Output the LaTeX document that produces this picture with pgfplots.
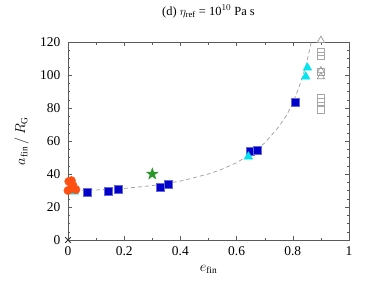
\documentclass[border=0pt]{standalone}
\usepackage{fontspec}
\setmainfont{Liberation Serif}
\usepackage{pgfplots}
\pgfplotsset{compat=1.18}
\definecolor{sqblue}{RGB}{0,0,200}
\definecolor{tricyan}{RGB}{0,230,240}
\definecolor{circred}{RGB}{255,80,20}
\definecolor{stargreen}{RGB}{40,150,40}
\definecolor{axgray}{RGB}{90,90,90}
\pgfdeclareplotmark{fstar}{%
  \pgfpathmoveto{\pgfqpointpolar{90}{\pgfplotmarksize}}%
  \pgfpathlineto{\pgfqpointpolar{126}{0.4\pgfplotmarksize}}%
  \pgfpathlineto{\pgfqpointpolar{162}{\pgfplotmarksize}}%
  \pgfpathlineto{\pgfqpointpolar{198}{0.4\pgfplotmarksize}}%
  \pgfpathlineto{\pgfqpointpolar{234}{\pgfplotmarksize}}%
  \pgfpathlineto{\pgfqpointpolar{270}{0.4\pgfplotmarksize}}%
  \pgfpathlineto{\pgfqpointpolar{306}{\pgfplotmarksize}}%
  \pgfpathlineto{\pgfqpointpolar{342}{0.4\pgfplotmarksize}}%
  \pgfpathlineto{\pgfqpointpolar{18}{\pgfplotmarksize}}%
  \pgfpathlineto{\pgfqpointpolar{54}{0.4\pgfplotmarksize}}%
  \pgfpathclose
  \pgfusepathqfillstroke}
\begin{document}
\fontsize{13.5}{16}\selectfont
\begin{tikzpicture}[x=1bp,y=1bp]
\useasboundingbox (-68,-59) rectangle (306,240);
\begin{axis}[
  at={(0,0)}, anchor=south west,
  scale only axis, width=281bp, height=198bp,
  xmin=0, xmax=1, ymin=0, ymax=120,
  xtick={0,0.2,...,1}, ytick={0,20,...,120},
  minor x tick num=1, minor y tick num=3,
  xticklabels={0,0.2,0.4,0.6,0.8,1},
  yticklabels={0,20,40,60,80,100,120},
  tick align=inside,
  major tick length=4bp, minor tick length=2.5bp,
  axis line style={axgray},
  every tick/.style={axgray},
  /pgf/number format/assume math mode=true,
  xticklabel style={font=\fontsize{13.5}{16}\selectfont, yshift=-2bp},
  yticklabel style={font=\fontsize{13.5}{16}\selectfont, xshift=-3bp},
  xlabel={$e_{\mathrm{fin}}$},
  ylabel={$a_{\mathrm{fin}}\,/\,R_{\mathrm{G}}$},
  label style={font=\fontsize{13.5}{16}\selectfont},
  xlabel style={at={(axis description cs:0.5,-0.15)}, anchor=center},
  ylabel style={at={(axis description cs:-0.165,0.5)}, anchor=center},
  title={(d) $\eta_{\mathrm{ref}}$ = 10$^{10}$ Pa s},
  title style={font=\fontsize{12.5}{15}\selectfont, at={(axis description cs:0.5,1.125)}, anchor=center},
  clip=false,
]
\addplot[gray!70, dashed, thick, dash pattern=on 4bp off 3bp] coordinates {
(0,30) (0.1,30.30) (0.2,31.25) (0.3,32.97) (0.4,35.71) (0.5,40) (0.55,43.01)
(0.6,46.875) (0.65,51.95) (0.7,58.82) (0.75,68.57) (0.78,76.2) (0.8,83.33)
(0.82,91.58) (0.84,101.9) (0.85,108.1) (0.866,120)};
% gray open markers at e=0.9
\addplot[only marks, mark=square, mark size=3.8bp, gray!70, mark options={line width=0.7pt}] coordinates {
(0.9,114) (0.9,111.5) (0.9,102) (0.9,85.8) (0.9,83.8) (0.9,78.8)};
\addplot[only marks, mark=triangle, mark size=4.2bp, gray!80, mark options={line width=0.7pt}] coordinates {
(0.9,121) (0.9,102.6) (0.9,99)};
% blue squares
\addplot[only marks, mark=square*, mark size=4bp, mark options={fill=sqblue, draw=sqblue!60}] coordinates {
(0.067,28.9) (0.143,29.3) (0.177,30.9) (0.327,32.3) (0.355,33.7)
(0.648,53.9) (0.675,54.5) (0.807,83.6)};
% cyan triangles
\addplot[only marks, mark=triangle*, mark size=5bp, mark options={fill=tricyan, draw=tricyan}] coordinates {
(0.022,29.3) (0.642,50.5) (0.852,104.4) (0.846,99)};
% red circles
\addplot[only marks, mark=*, mark size=4.2bp, mark options={fill=circred, draw=circred}] coordinates {
(0.003,35.5) (0.012,36) (0.0,30) (0.01,31) (0.028,30.5) (0.018,33)};
% green star
\addplot[only marks, mark=fstar, mark size=6bp, mark options={fill=stargreen, draw=stargreen, line width=0.4pt}] coordinates {(0.30,40)};
% black cross
\addplot[only marks, mark=x, mark size=4bp, black!80, mark options={line width=0.8pt}] coordinates {(0,0)};
\end{axis}
\end{tikzpicture}
\end{document}
